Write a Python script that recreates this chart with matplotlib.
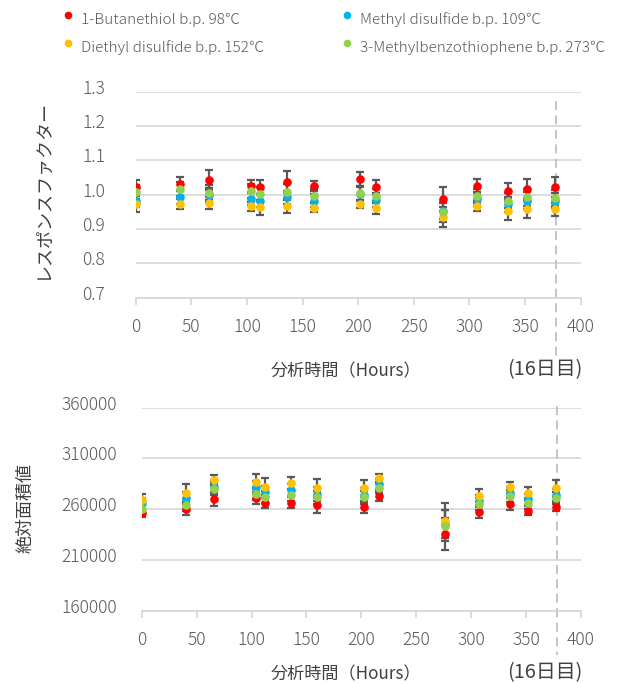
import matplotlib
matplotlib.use('Agg')
import matplotlib.pyplot as plt
from matplotlib.lines import Line2D
import matplotlib.transforms as mtransforms

plt.rcParams['font.family'] = ['Noto Sans CJK JP', 'DejaVu Sans']

# ---------------- data ----------------
hours = [0, 40, 66, 104, 112, 136, 160, 202, 216, 276, 307, 335, 352, 377]
series_names = ['1-Butanethiol b.p. 98℃', 'Methyl disulfide b.p. 109℃',
                'Diethyl disulfide b.p. 152℃', '3-Methylbenzothiophene b.p. 273℃']
colors = ['#FF0000', '#00B0F0', '#FFC000', '#92D050']

rf_butanethiol = [1.022, 1.031, 1.043, 1.025, 1.022, 1.037, 1.025, 1.046, 1.023, 0.987, 1.025, 1.011, 1.018, 1.023]
rf_methyl      = [0.983, 0.992, 1.000, 0.988, 0.983, 0.992, 0.983, 1.001, 0.985, 0.953, 0.987, 0.972, 0.983, 0.983]
rf_diethyl     = [0.973, 0.973, 0.975, 0.966, 0.963, 0.967, 0.962, 0.973, 0.962, 0.935, 0.967, 0.953, 0.958, 0.957]
rf_mbt         = [1.008, 1.016, 1.006, 1.010, 1.001, 1.008, 0.996, 1.006, 0.996, 0.949, 0.996, 0.982, 0.992, 0.990]

rf_err_butanethiol = [0.021, 0.020, 0.030, 0.018, 0.021, 0.032, 0.015, 0.020, 0.020, 0.035, 0.020, 0.024, 0.029, 0.029]
rf_err_methyl      = [0.018, 0.020, 0.020, 0.018, 0.020, 0.020, 0.018, 0.020, 0.020, 0.025, 0.020, 0.022, 0.024, 0.022]
rf_err_diethyl     = [0.023, 0.015, 0.018, 0.014, 0.022, 0.020, 0.013, 0.012, 0.019, 0.030, 0.015, 0.028, 0.027, 0.020]
rf_err_mbt         = [0.020, 0.020, 0.022, 0.020, 0.020, 0.022, 0.020, 0.020, 0.020, 0.028, 0.020, 0.022, 0.025, 0.024]

area_butanethiol = [256700, 260000, 269800, 270800, 265900, 266500, 263900, 262300, 273300, 235800, 257600, 265200, 258600, 262500]
area_methyl      = [265900, 270800, 282200, 281600, 277300, 278900, 275000, 274000, 284800, 245300, 268400, 276300, 269800, 274000]
area_diethyl     = [269100, 275700, 288700, 287100, 282200, 285500, 281200, 280600, 291000, 248800, 273300, 281600, 275700, 280600]
area_mbt         = [260000, 264200, 279600, 274700, 271800, 274000, 271800, 271800, 280600, 243900, 265200, 273000, 265900, 271400]

area_err_butanethiol = [3900, 5600, 6500, 5900, 4900, 5500, 7200, 6200, 4900, 15700, 6500, 5900, 4200, 3900]
area_err_methyl      = [5000, 6000, 5500, 6000, 6000, 5500, 6500, 6500, 5000, 14000, 6000, 5500, 5500, 6000]
area_err_diethyl     = [5600, 8800, 4900, 7200, 8200, 5900, 8800, 8100, 4000, 17000, 6600, 5500, 6500, 8100]
area_err_mbt         = [5000, 6000, 6000, 6000, 6000, 5500, 6500, 6500, 5000, 15000, 6000, 5500, 5500, 6000]

x_ticks = [0, 50, 100, 150, 200, 250, 300, 350, 400]
rf_ticks = [0.7, 0.8, 0.9, 1.0, 1.1, 1.2, 1.3]
area_ticks = [160000, 210000, 260000, 310000, 360000]
marker_hour = 378
xlabel_text = '分析時間（Hours）'
day_text = '(16日目)'
rf_ylabel = 'レスポンスファクター'
area_ylabel = '絶対面積値'

rf_values = [rf_butanethiol, rf_methyl, rf_diethyl, rf_mbt]
rf_errs = [rf_err_butanethiol, rf_err_methyl, rf_err_diethyl, rf_err_mbt]
area_values = [area_butanethiol, area_methyl, area_diethyl, area_mbt]
area_errs = [area_err_butanethiol, area_err_methyl, area_err_diethyl, area_err_mbt]

# ---------------- style ----------------
grid_c = '#D9D9D9'
text_c = '#595959'
title_c = '#404040'
err_c = '#595959'
W, H = 622, 684

fig = plt.figure(figsize=(W / 100, H / 100), dpi=100)


def px_box(l, t, r, b):
    return [l / W, 1 - b / H, (r - l) / W, (b - t) / H]


def fx(px):
    return px / W


def fy(py):
    return 1 - py / H


ax1 = fig.add_axes(px_box(135.7, 91.7, 580.7, 297.7))
ax2 = fig.add_axes(px_box(141.7, 407.7, 581.0, 610.7))

lift = mtransforms.ScaledTranslation(0, 5 / 100, fig.dpi_scale_trans)


def style_axes(ax, yticks, ylim, yfmt, ypad):
    ax.set_xlim(0, 400)
    ax.set_ylim(*ylim)
    ax.set_xticks(x_ticks)
    ax.set_yticks(yticks)
    ax.set_yticklabels([yfmt(v) for v in yticks])
    for s in ['top', 'right', 'left']:
        ax.spines[s].set_visible(False)
    ax.spines['bottom'].set_color(grid_c)
    ax.spines['bottom'].set_linewidth(1.3)
    ax.yaxis.grid(True, color=grid_c, linewidth=1.3)
    ax.set_axisbelow(True)
    ax.tick_params(axis='x', direction='out', length=5, width=1.3, color=grid_c,
                   labelcolor=text_c, labelsize=12.5, pad=9.5)
    ax.tick_params(axis='y', length=0, labelcolor=text_c, labelsize=12.5, pad=ypad)
    for lab in ax.get_xticklabels() + ax.get_yticklabels():
        lab.set_fontweight('light')
    for lab in ax.get_yticklabels():
        lab.set_transform(lab.get_transform() + lift)


style_axes(ax1, rf_ticks, (0.7, 1.3), lambda v: f'{v:.1f}', 22)
style_axes(ax2, area_ticks, (160000, 360000), lambda v: f'{v:d}', 18)

for ax, vals, errs in [(ax1, rf_values, rf_errs), (ax2, area_values, area_errs)]:
    for v, e in zip(vals, errs):
        ax.errorbar(hours, v, yerr=e, fmt='none', ecolor=err_c, elinewidth=1.6,
                    capsize=2.9, capthick=1.6, zorder=2)
    for i, (v, c) in enumerate(zip(vals, colors)):
        ax.plot(hours, v, 'o', color=c, markersize=6.2, markeredgewidth=0,
                linestyle='none', zorder=3 + i * 0.1)

# dashed marker line at day 16
trans1 = mtransforms.blended_transform_factory(ax1.transData, ax1.transAxes)
ax1.add_line(Line2D([marker_hour, marker_hour], [0.956, -0.293], transform=trans1,
                    color='#BFBFBF', linewidth=1.3, linestyle=(0, (5, 3)),
                    clip_on=False, zorder=1))
trans2 = mtransforms.blended_transform_factory(ax2.transData, ax2.transAxes)
ax2.add_line(Line2D([marker_hour, marker_hour], [1.01, -0.218], transform=trans2,
                    color='#BFBFBF', linewidth=1.3, linestyle=(0, (5, 3)),
                    clip_on=False, zorder=1))

# axis titles
ax1.set_ylabel(rf_ylabel, fontsize=13, color=title_c)
ax1.yaxis.set_label_coords((52 - 135.7) / 445.0, 0.53)
ax2.set_ylabel(area_ylabel, fontsize=13, color=title_c)
ax2.yaxis.set_label_coords((34 - 141.7) / 439.3, 0.505)

fig.text(fx(346), fy(371), xlabel_text, ha='center', va='center', fontsize=12.3, color=title_c)
fig.text(fx(545), fy(370), day_text, ha='center', va='center', fontsize=14.3, color=title_c)
fig.text(fx(346), fy(674), xlabel_text, ha='center', va='center', fontsize=12.3, color=title_c)
fig.text(fx(545), fy(673), day_text, ha='center', va='center', fontsize=14.3, color=title_c)

# legend (2 columns, row-wise order)
leg_pos = [(68, 15), (347, 15), (68, 43), (347, 43)]
for (lx, ly), name, c in zip(leg_pos, series_names, colors):
    fig.add_artist(Line2D([fx(lx)], [fy(ly)], marker='o', color=c, markersize=5.5,
                          markeredgewidth=0, linestyle='none', transform=fig.transFigure))
    fig.text(fx(lx + 13), fy(ly + 4.5), name, ha='left', va='center',
             fontsize=11, color=text_c, fontweight='light')

fig.savefig('out.png', dpi=100)
